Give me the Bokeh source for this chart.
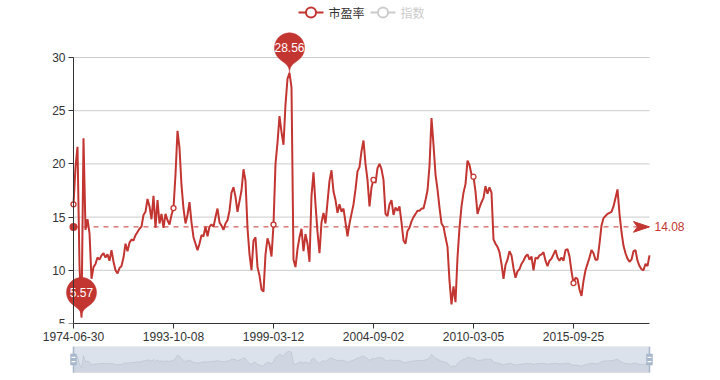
import math
import numpy as np
from bokeh.plotting import figure
from bokeh.layouts import column
from bokeh.models import Range1d, FixedTicker
from bokeh.core.properties import value
from bokeh.embed import file_html
from bokeh.resources import INLINE

# ---------------- data ----------------
legend_names = ["市盈率", "指数"]
tick_labels = ["1974-06-30", "1993-10-08", "1999-03-12", "2004-09-02", "2010-03-05", "2015-09-25"]
tick_index = [0, 50, 100, 150, 200, 250]
y_ticks = [5, 10, 15, 20, 25, 30]
avg_pe = 14.08

pe_values = [
    16.2, 19.7, 21.6, 10.5, 5.57, 22.4, 13.8, 14.8, 13.5, 9.2,
    10.3, 10.6, 11.2, 11.0, 11.4, 11.6, 11.2, 11.5, 10.9, 11.9,
    10.8, 10.0, 9.7, 10.2, 10.4, 11.2, 12.5, 11.8, 12.6, 12.9,
    12.8, 13.3, 13.6, 13.9, 14.1, 15.2, 15.5, 16.7, 16.0, 14.8,
    17.0, 14.0, 16.6, 14.4, 15.3, 14.0, 15.3, 14.7, 14.3, 15.2,
    15.85, 19.0, 23.1, 21.5, 18.0, 15.8, 14.4, 15.2, 16.4, 14.5,
    13.1, 12.5, 11.9, 12.5, 13.3, 13.2, 14.1, 13.2, 14.1, 14.3,
    14.1, 15.0, 15.8, 14.5, 14.2, 13.8, 14.4, 14.7, 15.6, 17.3,
    17.8, 16.9, 15.5, 16.5, 17.5, 19.5, 18.4, 14.0, 11.5, 10.0,
    12.8, 13.1, 10.3, 9.5, 8.2, 8.0, 11.5, 13.0, 12.4, 11.3,
    14.3, 20.0, 22.0, 24.5, 23.0, 21.8, 25.6, 28.0, 28.56, 27.2,
    11.0, 10.3, 12.0, 13.1, 13.9, 11.8, 13.4, 12.5, 10.8, 17.0,
    19.2, 16.2, 13.6, 11.6, 14.5, 15.4, 14.4, 16.4, 18.4, 19.4,
    17.4, 16.6, 15.4, 16.2, 15.5, 15.8, 14.5, 13.2, 14.4, 15.3,
    16.2, 17.6, 19.3, 19.7, 21.2, 22.2, 20.0, 18.5, 16.0, 17.8,
    18.5, 18.2, 19.6, 20.0, 19.5, 18.5, 15.3, 15.1, 16.2, 16.6,
    15.2, 15.9, 15.6, 16.0, 14.5, 12.8, 12.5, 13.7, 14.0, 14.6,
    15.0, 15.3, 15.6, 15.6, 15.8, 15.8, 16.6, 17.5, 19.8, 24.3,
    21.8, 19.0, 17.6, 15.9, 14.4, 14.1, 13.1, 12.2, 9.0, 6.8,
    8.5, 7.0, 11.2, 14.0, 16.0, 17.3, 18.1, 20.3, 19.9, 19.0,
    18.8, 17.4, 15.3, 15.9, 16.4, 16.8, 17.9, 17.2, 17.8, 17.3,
    12.9, 12.5, 12.2, 11.7, 10.6, 9.2, 10.5, 11.0, 11.8, 11.4,
    10.2, 9.3, 9.9, 10.1, 10.6, 10.9, 11.3, 11.5, 11.0, 11.3,
    10.0, 11.2, 11.1, 11.4, 11.5, 11.7, 10.9, 10.4, 10.9, 11.1,
    11.5, 11.9, 11.2, 10.9, 11.2, 10.9, 11.9, 12.0, 11.3, 9.9,
    8.8, 9.3, 9.2, 8.2, 7.6, 9.0, 10.0, 10.6, 11.2, 11.9,
    11.6, 11.0, 11.0, 12.5, 14.2, 14.9, 15.1, 15.3, 15.4, 15.5,
    16.0, 16.8, 17.6, 15.3, 13.6, 12.3, 11.6, 11.1, 10.8, 11.0,
    11.8, 11.9, 10.9, 10.4, 10.1, 10.0, 10.6, 10.4, 11.4,
]

# ---------------- styles / layout ----------------
RED = "#c23531"
AX = "#333333"
NUMFONT = value("Liberation Sans")
CJKFONT = value("Noto Sans CJK SC")

N = len(pe_values)
idx = list(range(N))

PLOT_L, PLOT_R = 73, 649      # page x of first / last category
PLOT_T, PLOT_B = 57, 323      # page y of top / bottom y tick
LEG_H = 25
MAIN_H = 321
SLD_H = 380 - LEG_H - MAIN_H
FRAME_L = 30                  # shared frame left edge for all stacked figures

XU = (N - 1) / (PLOT_R - PLOT_L)                       # category units per px
YU = (y_ticks[-1] - y_ticks[0]) / (PLOT_B - PLOT_T)    # value units per px
X_START = -(PLOT_L - FRAME_L) * XU
X_END = (N - 1) + (720 - PLOT_R) * XU

common = dict(output_backend="svg", toolbar_location=None,
              min_border_left=FRAME_L, min_border_right=0, min_border_top=0)

# ---------------- legend strip ----------------
leg = figure(width=720, height=LEG_H, x_range=Range1d(FRAME_L, 720), y_range=Range1d(LEG_H, 0),
             x_axis_location=None, y_axis_location=None, min_border_bottom=0, **common)
leg.grid.visible = False
leg.outline_line_color = None
legend_items = [(298, legend_names[0], RED, AX), (370, legend_names[1], "#cccccc", "#cccccc")]
for x0, name, c, tc in legend_items:
    leg.segment(x0=[x0], y0=[12], x1=[x0 + 25], y1=[12], line_color=c, line_width=2)
    leg.scatter([x0 + 12.5], [12], size=10, fill_color="white", line_color=c, line_width=2)
    leg.text(x=[x0 + 30], y=[12], text=[name], text_font=CJKFONT, text_font_size="12px",
             text_color=tc, text_baseline="middle", text_align="left")

# ---------------- main chart ----------------
main = figure(width=720, height=MAIN_H,
              x_range=Range1d(X_START, X_END),
              y_range=Range1d(y_ticks[0], y_ticks[0] + (PLOT_B - LEG_H) * YU),
              min_border_bottom=MAIN_H - (PLOT_B - LEG_H), **common)
main.grid.visible = False
main.outline_line_color = None

for ax in (main.xaxis[0], main.yaxis[0]):
    ax.axis_line_color = AX
    ax.major_tick_line_color = AX
    ax.major_tick_out = 5
    ax.major_tick_in = 0
    ax.minor_tick_line_color = None
    ax.major_label_text_color = AX
    ax.major_label_text_font_size = "12px"
    ax.major_label_text_font = "Liberation Sans"
    ax.major_label_standoff = 3

main.xaxis.ticker = FixedTicker(ticks=tick_index)
main.xaxis.major_label_overrides = {i: lab for i, lab in zip(tick_index, tick_labels)}
main.xaxis.bounds = (0, N - 1)
main.yaxis.ticker = FixedTicker(ticks=y_ticks)
main.yaxis.bounds = (y_ticks[0], y_ticks[-1])
main.yaxis.fixed_location = 0

# horizontal split lines
gl = y_ticks[1:]
main.segment(x0=[0] * len(gl), y0=gl, x1=[N - 1] * len(gl), y1=gl, line_color="#cccccc", line_width=1)

# average mark line
arrow_len, arrow_half, notch = 16, 5.33, 12
main.segment(x0=[0], y0=[avg_pe], x1=[(N - 1) - notch * XU], y1=[avg_pe],
             line_color=RED, line_width=1, line_dash="5 5")

# series line
main.line(idx, pe_values, line_color=RED, line_width=2)

main.scatter([0], [avg_pe], size=8, fill_color=RED, line_color=None)
ax_tip = N - 1
main.patch(x=[ax_tip, ax_tip - arrow_len * XU, ax_tip - notch * XU, ax_tip - arrow_len * XU],
           y=[avg_pe, avg_pe + arrow_half * YU, avg_pe, avg_pe - arrow_half * YU],
           fill_color=RED, line_color=RED, line_width=1)
main.text(x=[N - 1], y=[avg_pe], text=[f"{avg_pe:.2f}"], x_offset=5, text_font=NUMFONT,
          text_font_size="12px", text_color=RED, text_baseline="middle", text_align="left")

# symbols shown at label interval
main.scatter(tick_index, [pe_values[i] for i in tick_index], size=5,
             fill_color="white", line_color=RED, line_width=1.3)


def pin_shape(tx, ty):
    r, h = 15.0, 47.0
    dy = r * r / (h - r)
    cy = -h + r + dy
    a = math.asin(dy / r)
    dx = math.cos(a) * r
    sx, sy = math.sin(a), math.cos(a)
    cp, cp2 = r * 0.6, r * 0.7
    pts = [(r * math.cos(t), cy + r * math.sin(t)) for t in np.linspace(math.pi - a, 2 * math.pi + a, 48)]

    def bez(p0, p1, p2, p3):
        out = []
        for t in np.linspace(0, 1, 16)[1:]:
            u = 1 - t
            out.append((u**3 * p0[0] + 3 * u * u * t * p1[0] + 3 * u * t * t * p2[0] + t**3 * p3[0],
                        u**3 * p0[1] + 3 * u * u * t * p1[1] + 3 * u * t * t * p2[1] + t**3 * p3[1]))
        return out

    pts += bez((dx, cy + dy), (dx - sx * cp, cy + dy + sy * cp), (0, -cp2), (0, 0))
    pts += bez((0, 0), (0, -cp2), (-dx + sx * cp, cy + dy + sy * cp), (-dx, cy + dy))
    xs = [tx + px * XU for px, py in pts]
    ys = [ty - py * YU for px, py in pts]
    return xs, ys, ty - cy * YU


imax = int(np.argmax(pe_values))
imin = int(np.argmin(pe_values))
for i in (imax, imin):
    v = pe_values[i]
    xs, ys, cyv = pin_shape(i, v)
    main.patch(xs, ys, fill_color=RED, line_color=RED, line_width=0.5)
    main.text(x=[i], y=[cyv], text=[f"{v:.2f}"], text_font=NUMFONT, text_font_size="12px",
              text_color="white", text_baseline="middle", text_align="center")

# ---------------- data zoom slider ----------------
BOX_H = 26
sld = figure(width=720, height=SLD_H,
             x_range=Range1d(X_START, X_END), y_range=Range1d(SLD_H, 0),
             x_axis_location=None, y_axis_location=None, min_border_bottom=0, **common)
sld.grid.visible = False
sld.outline_line_color = None

lo, hi = min(pe_values), max(pe_values)
off = (hi - lo) * 0.3
lo_e, hi_e = lo - off, hi + off
sld.extra_y_ranges = {"shadow": Range1d(lo_e - (SLD_H - BOX_H) / BOX_H * (hi_e - lo_e), hi_e)}
sld.varea(x=idx, y1=[lo_e] * N, y2=pe_values, fill_color="#2f4554", fill_alpha=0.1, y_range_name="shadow")
sld.line(idx, pe_values, line_color="#2f4554", line_alpha=0.3, line_width=0.5, y_range_name="shadow")
sld.quad(left=[0], right=[N - 1], top=[0], bottom=[BOX_H], fill_color="#a7b7cc", fill_alpha=0.4,
         line_color="#dddddd", line_width=1)
for hx in (0, N - 1):
    sld.rect(x=[hx], y=[BOX_H / 2], width=1.5, height=BOX_H, width_units="screen", height_units="screen",
             fill_color="#a7b7cc", line_color=None)
    sld.rect(x=[hx], y=[BOX_H / 2], width=6.5, height=11.7, width_units="screen", height_units="screen",
             fill_color="#a7b7cc", line_color=None)
    sld.rect(x=[hx, hx], y=[BOX_H / 2 - 2.1, BOX_H / 2 + 2.1], width=3.9, height=1.1,
             width_units="screen", height_units="screen", fill_color="white", line_color=None)

layout = column(leg, main, sld, spacing=0)
open("out.html", "w").write(file_html(layout, INLINE))
